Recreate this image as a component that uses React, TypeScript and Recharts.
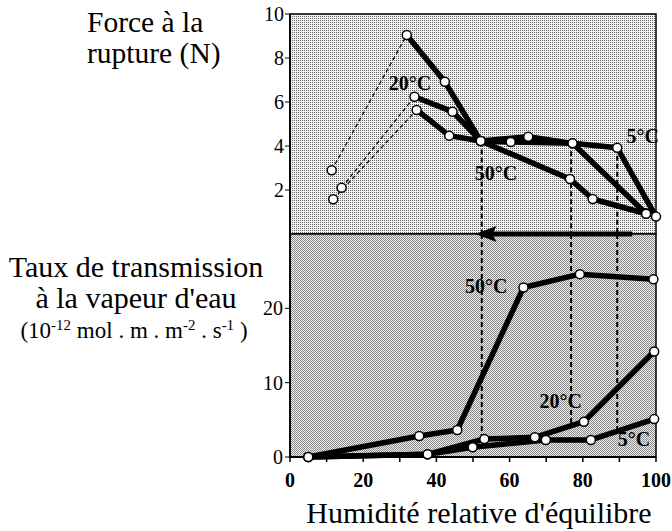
import { ComposedChart, Line, Scatter, XAxis, YAxis, ReferenceArea, ReferenceLine, ReferenceDot } from 'recharts'

// Force à la rupture (N) vs humidité relative d'équilibre (%)
const rh5F = [11.8, 34.6, 43.5, 52.1, 60.3, 77.2, 89.4, 100]
const force5 = [1.58, 5.64, 4.47, 4.23, 4.18, 4.12, 3.92, 0.79]
const rh20F = [11.4, 31.9, 42.3, 52.1, 65.1, 77.2, 97.2]
const force20 = [2.9, 9.05, 6.92, 4.23, 4.42, 4.12, 0.94]
const rh50F = [14.1, 34.0, 44.4, 52.1, 76.5, 82.7, 97.3]
const force50 = [2.1, 6.24, 5.56, 4.23, 2.5, 1.59, 0.92]

// Taux de transmission à la vapeur d'eau vs humidité relative
const rh5T = [5, 37.6, 49.9, 69.9, 82.2, 99.5]
const rate5 = [0, 0.36, 1.3, 2.29, 2.29, 5.1]
const rh20T = [5, 37.6, 53.1, 66.9, 80.3, 99.5]
const rate20 = [0, 0.36, 2.42, 2.65, 4.75, 14.2]
const rh50T = [5, 35.3, 45.7, 63.8, 79.2, 99.3]
const rate50 = [0, 2.83, 3.63, 22.8, 24.6, 23.9]

// critical humidities (dashed guides) : x, force, rate
const critRh = [52.4, 76.8, 89.4]
const critForce = [4.2, 4.12, 3.92]
const critRate = [2.4, 4.3, 3.5]

const forceTicks = [2, 4, 6, 8, 10]
const rateTicks = [0, 10, 20]
const rhTicks = [0, 10, 20, 30, 40, 50, 60, 70, 80, 90, 100]

const pts = (xs: number[], ys: number[]) => xs.map((x, i) => ({ x, y: ys[i] }))

const FONT = '"Liberation Serif", "Times New Roman", serif'
const tickStyle = { fontSize: 20, fill: '#000', fontFamily: FONT }

const dotShape = (p: any) => (
  <circle cx={p.cx} cy={p.cy} r={4.5} fill="#fff" stroke="#000" strokeWidth={1.5} />
)

const tag = (text: string) => (p: any) => (
  <text x={p.cx} y={p.cy} dy="0.35em" textAnchor="middle" fontFamily={FONT}
    fontWeight="bold" fontSize={20} fill="#000">{text}</text>
)

const arrowHead = (p: any) => (
  <polygon points={`${p.cx - 14},${p.cy} ${p.cx + 7},${p.cy - 8} ${p.cx + 3},${p.cy} ${p.cx + 7},${p.cy + 8}`} fill="#000" />
)

function ForcePanel() {
  const series = [pts(rh5F, force5), pts(rh20F, force20), pts(rh50F, force50)]
  return (
    <ComposedChart width={672} height={240} margin={{ top: 14, right: 16, bottom: 6, left: 0 }}
      style={{ position: 'absolute', left: 0, top: 0 }}>
      <defs>
        <pattern id="dotsLight" width={2} height={2} patternUnits="userSpaceOnUse">
          <rect width={2} height={2} fill="#f2f2f2" />
          <rect width={1} height={1} fill="#666" />
        </pattern>
      </defs>
      <XAxis type="number" dataKey="x" domain={[0, 100]} hide />
      <YAxis type="number" domain={[0, 10]} ticks={forceTicks} width={290}
        axisLine={{ stroke: '#000', strokeWidth: 2 }} tickLine={{ stroke: '#000' }}
        tickSize={5} tickMargin={1} tick={tickStyle} />
      <ReferenceArea x1={0} x2={100} y1={0} y2={10} fill="url(#dotsLight)" fillOpacity={1}
        stroke="#000" strokeWidth={1.5} />
      {critRh.map((x, i) => (
        <ReferenceLine key={i} segment={[{ x, y: critForce[i] }, { x, y: 0 }]}
          stroke="#000" strokeWidth={2} strokeDasharray="5 3" />
      ))}
      {series.map((s, i) => (
        <Line key={'d' + i} data={s.slice(0, 2)} dataKey="y" stroke="#000" strokeWidth={1.2}
          strokeDasharray="4 3" dot={false} isAnimationActive={false} />
      ))}
      {series.map((s, i) => (
        <Line key={'s' + i} data={s.slice(1)} dataKey="y" stroke="#000" strokeWidth={5.5}
          strokeLinejoin="round" dot={false} isAnimationActive={false} />
      ))}
      {series.map((s, i) => (
        <Scatter key={'p' + i} data={s} dataKey="y" shape={dotShape} isAnimationActive={false} />
      ))}
      <ReferenceDot x={32.8} y={6.86} r={0} shape={tag('20°C')} />
      <ReferenceDot x={96.4} y={4.45} r={0} shape={tag('5°C')} />
      <ReferenceDot x={56.3} y={2.77} r={0} shape={tag('50°C')} />
    </ComposedChart>
  )
}

function RatePanel() {
  const series = [pts(rh5T, rate5), pts(rh20T, rate20), pts(rh50T, rate50)]
  return (
    <ComposedChart width={672} height={307} margin={{ top: 10, right: 16, bottom: 0, left: 0 }}
      style={{ position: 'absolute', left: 0, top: 224 }}>
      <defs>
        <pattern id="dotsDark" width={2} height={2} patternUnits="userSpaceOnUse">
          <rect width={2} height={2} fill="#eeeeee" />
          <rect width={1} height={1} fill="#8a8a8a" />
          <rect x={1} y={1} width={1} height={1} fill="#8a8a8a" />
        </pattern>
      </defs>
      <XAxis type="number" dataKey="x" domain={[0, 100]} ticks={rhTicks} interval={0} height={74}
        axisLine={{ stroke: '#000', strokeWidth: 2 }} tickLine={{ stroke: '#000', strokeWidth: 1.5 }}
        tickSize={5} tickMargin={11}
        tickFormatter={(v: number) => (v % 20 === 0 ? String(v) : '')}
        tick={{ ...tickStyle, fontWeight: 'bold' }} />
      <YAxis type="number" domain={[0, 30]} ticks={rateTicks} width={290}
        axisLine={{ stroke: '#000', strokeWidth: 2 }} tickLine={{ stroke: '#000' }}
        tickSize={5} tickMargin={2} tick={tickStyle} />
      <ReferenceArea x1={0} x2={100} y1={0} y2={30} fill="url(#dotsDark)" fillOpacity={1}
        stroke="#000" strokeWidth={1.5} />
      {critRh.map((x, i) => (
        <ReferenceLine key={i} segment={[{ x, y: 30 }, { x, y: critRate[i] }]}
          stroke="#000" strokeWidth={2} strokeDasharray="5 3" />
      ))}
      <ReferenceLine segment={[{ x: 53, y: 30 }, { x: 93.5, y: 30 }]} stroke="#000" strokeWidth={5} />
      <ReferenceDot x={54.5} y={30} r={0} shape={arrowHead} />
      {series.map((s, i) => (
        <Line key={'s' + i} data={s} dataKey="y" stroke="#000" strokeWidth={5.5}
          strokeLinejoin="round" dot={false} isAnimationActive={false} />
      ))}
      {series.map((s, i) => (
        <Scatter key={'p' + i} data={s} dataKey="y" shape={dotShape} isAnimationActive={false} />
      ))}
      <ReferenceDot x={53.6} y={23} r={0} shape={tag('50°C')} />
      <ReferenceDot x={74} y={7.5} r={0} shape={tag('20°C')} />
      <ReferenceDot x={94} y={2.4} r={0} shape={tag('5°C')} />
    </ComposedChart>
  )
}

export default function App() {
  return (
    <div style={{ position: 'absolute', left: 0, top: 0, width: 672, height: 531, background: '#fff', overflow: 'hidden' }}>
      <ForcePanel />
      <RatePanel />
      <svg width={672} height={531} style={{ position: 'absolute', left: 0, top: 0, pointerEvents: 'none', fontFamily: FONT }}
        fill="#000">
        <text x={87} y={32} fontSize={29.5}>Force à la</text>
        <text x={87} y={63} fontSize={29.5}>rupture (N)</text>
        <text x={136} y={277} fontSize={30} textAnchor="middle">Taux de transmission</text>
        <text x={136} y={308} fontSize={30} textAnchor="middle">à la vapeur d'eau</text>
        <text x={134} y={338} fontSize={23} textAnchor="middle">
          (10<tspan fontSize={15} dy={-8}>-12</tspan>
          <tspan dy={8}> mol . m . m</tspan>
          <tspan fontSize={15} dy={-8}>-2</tspan>
          <tspan dy={8}> . s</tspan>
          <tspan fontSize={15} dy={-8}>-1</tspan>
          <tspan dy={8}> )</tspan>
        </text>
        <text x={479} y={523} fontSize={30} textAnchor="middle">Humidité relative d'équilibre</text>
      </svg>
    </div>
  )
}
